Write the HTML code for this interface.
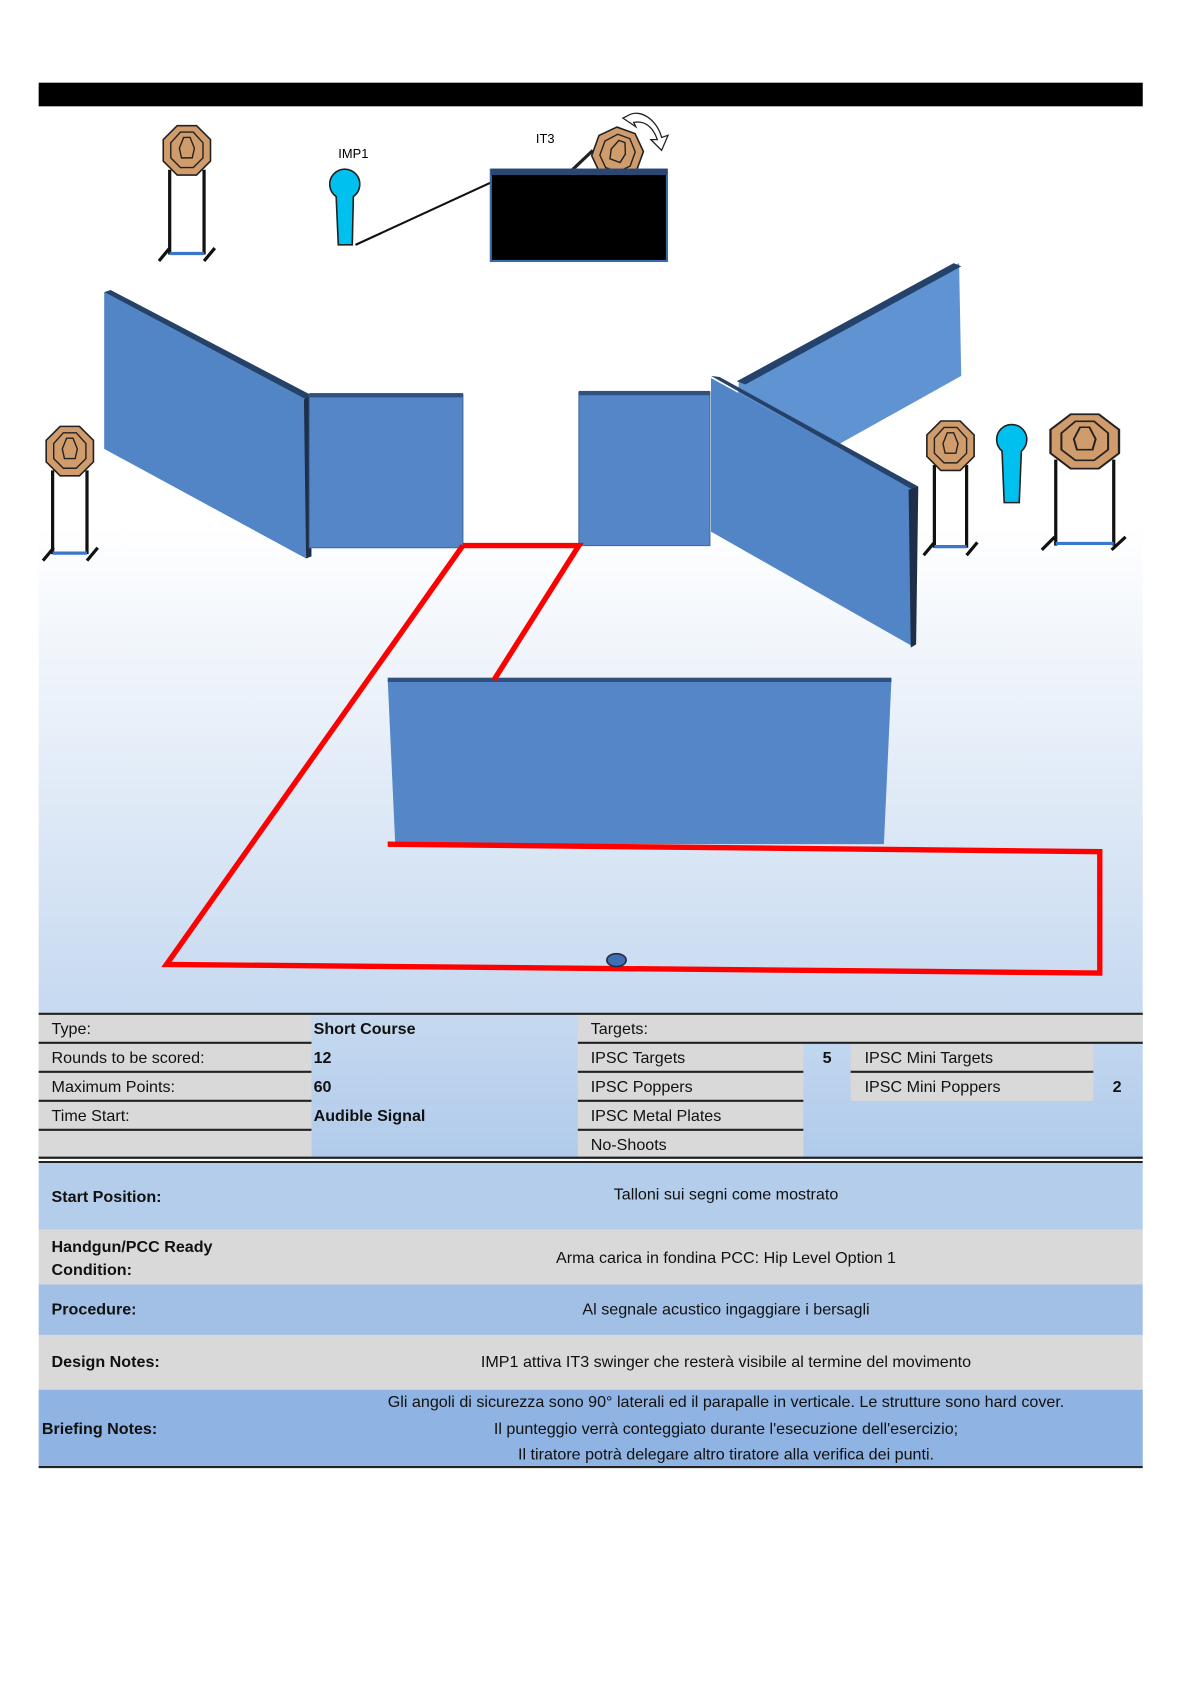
<!DOCTYPE html>
<html><head><meta charset="utf-8"><style>
html,body{margin:0;padding:0;background:#fff;}
svg{display:block;}
text{font-family:"Liberation Sans",Arial,sans-serif;}
</style></head><body>
<svg width="1190" height="1684" viewBox="0 0 1108 1568" preserveAspectRatio="none" xmlns="http://www.w3.org/2000/svg">
<defs>
<linearGradient id="bg" x1="0" y1="0" x2="0" y2="1">
<stop offset="0" stop-color="#ffffff"/><stop offset="1" stop-color="#c6d9f0"/>
</linearGradient>
<linearGradient id="tb" x1="0" y1="0" x2="0" y2="1">
<stop offset="0" stop-color="#c6d9f0"/><stop offset="1" stop-color="#b0cbeb"/>
</linearGradient>
<g id="oct">
<polygon points="-9,-23 9,-23 22,-10 22,10 9,23 -9,23 -22,10 -22,-10" fill="#d19c6b" stroke="#222" stroke-width="1.5"/>
<polygon points="-6,-17 6,-17 15,-7 15,7 6,16 -6,16 -15,7 -15,-7" fill="none" stroke="#222" stroke-width="1.3"/>
<path d="M-3,-12 L3,-12 L7,-2 L5,7 L-5,7 L-7,-2 Z" fill="none" stroke="#222" stroke-width="1.3"/>
</g>
</defs>
<rect x="36" y="490" width="1028" height="455" fill="url(#bg)"/>
<rect x="36" y="77" width="1028" height="22" fill="#000"/>

<!-- left wall -->
<polygon points="97,272 285,372 285,520 97,418" fill="#5285c6"/>
<polygon points="97,272 103,270 290,368 285,372" fill="#25426a"/>
<polygon points="283,372 290,368 290,518 285,520" fill="#1e2f4a"/>
<rect x="288" y="367" width="143" height="143" fill="#5587c8" stroke="#3f6aa0" stroke-width="1"/>
<rect x="288" y="366" width="143" height="4" fill="#30517f"/>
<rect x="539" y="365" width="122" height="143" fill="#5587c8" stroke="#3f6aa0" stroke-width="1"/>
<rect x="539" y="364" width="122" height="4" fill="#30517f"/>
<!-- right back wall -->
<polygon points="688,355 893,245 895,350 680,470" fill="#5f93d2"/>
<polygon points="686,355 888,245 895,248 694,358" fill="#25426a"/>
<!-- right front wall -->
<polygon points="662,352 850,455 850,602 662,495" fill="#5285c6"/>
<polygon points="662,350 670,351 855,453 850,456" fill="#25426a"/>
<polygon points="846,456 855,453 853,600 848,603" fill="#1e2f4a"/>
<!-- front wall -->
<polygon points="361,633 830,633 823,786 368,786" fill="#5587c8"/>
<rect x="361" y="631" width="469" height="4" fill="#30517f"/>

<!-- red path -->
<polyline points="431,508 539,508 460,633" fill="none" stroke="#f00" stroke-width="5"/>
<polyline points="361,786 1024,793 1024,906 155,898 431,508" fill="none" stroke="#f00" stroke-width="5"/>
<ellipse cx="574" cy="894" rx="9" ry="6" fill="#3f6fb0" stroke="#1e2f4a" stroke-width="1.5"/>

<!-- targets with stands -->
<g stroke="#111" stroke-width="3" fill="none">
<path d="M158,158 V237 M190,158 V237 M148,243 L158,231 M190,243 L200,231"/>
<path d="M49,438 V516 M81,438 V516 M40,522 L50,510 M81,522 L91,510"/>
<path d="M870,433 V510 M900,433 V510 M860,517 L870,505 M900,517 L910,505"/>
<path d="M983,428 V508 M1037,428 V508 M970,512 L982,500 M1035,512 L1048,500"/>
</g>
<g stroke="#3a77c8" stroke-width="3">
<line x1="158" y1="236" x2="190" y2="236"/>
<line x1="49" y1="515" x2="81" y2="515"/>
<line x1="870" y1="509" x2="900" y2="509"/>
<line x1="983" y1="506" x2="1037" y2="506"/>
</g>
<use href="#oct" x="174" y="140"/>
<use href="#oct" x="65" y="420"/>
<use href="#oct" x="885" y="415"/>
<g transform="translate(1010,411) scale(1.45,1.1)"><use href="#oct"/></g>

<!-- poppers -->
<path d="M315,228 L313,183 A14,14 0 1 1 329,183 L328,228 Z" fill="#00c0f0" stroke="#222" stroke-width="1.5"/>
<path d="M935,468 L933,420 A14,14 0 1 1 951,420 L949,468 Z" fill="#00c0f0" stroke="#222" stroke-width="1.5"/>
<text x="315" y="147" font-size="12">IMP1</text>
<line x1="331" y1="228" x2="457" y2="170" stroke="#111" stroke-width="2"/>

<!-- IT3 -->
<text x="499" y="133" font-size="12">IT3</text>
<line x1="533" y1="158" x2="552" y2="140" stroke="#222" stroke-width="3"/>
<g transform="translate(575,143) rotate(20)"><use href="#oct"/></g>
<rect x="457" y="158" width="164" height="85" fill="#000" stroke="#3a6aa8" stroke-width="2"/>
<rect x="457" y="157" width="164" height="6" fill="#2b4670"/>
<path d="M584,108 C596,100 612,112 616,128 L622,126 L616,140 L606,130 L612,130 C608,118 600,112 590,114 L592,118 L580,110 Z" fill="#fff" stroke="#222" stroke-width="1.2"/>

<!-- table -->
<rect x="36" y="944" width="1028" height="134" fill="url(#tb)"/>
<g fill="#d9d9d9">
<rect x="36" y="944" width="254" height="134"/>
<rect x="538" y="944" width="526" height="27"/>
<rect x="538" y="971" width="210" height="107"/>
<rect x="792" y="971" width="226" height="54"/>
</g>
<g stroke="#222" stroke-width="2">
<line x1="36" y1="944" x2="1064" y2="944"/>
<line x1="36" y1="971" x2="290" y2="971"/><line x1="538" y1="971" x2="1064" y2="971"/>
<line x1="36" y1="998" x2="290" y2="998"/><line x1="538" y1="998" x2="748" y2="998"/><line x1="792" y1="998" x2="1018" y2="998"/>
<line x1="36" y1="1025" x2="290" y2="1025"/><line x1="538" y1="1025" x2="748" y2="1025"/>
<line x1="36" y1="1052" x2="290" y2="1052"/><line x1="538" y1="1052" x2="748" y2="1052"/>
<line x1="36" y1="1078" x2="1064" y2="1078"/><line x1="36" y1="1082" x2="1064" y2="1082"/>
</g>
<g font-size="15" fill="#111">
<text x="48" y="963">Type:</text>
<text x="48" y="990">Rounds to be scored:</text>
<text x="48" y="1017">Maximum Points:</text>
<text x="48" y="1044">Time Start:</text>
<text x="292" y="963" font-weight="bold">Short Course</text>
<text x="292" y="990" font-weight="bold">12</text>
<text x="292" y="1017" font-weight="bold">60</text>
<text x="292" y="1044" font-weight="bold">Audible Signal</text>
<text x="550" y="963">Targets:</text>
<text x="550" y="990">IPSC Targets</text>
<text x="550" y="1017">IPSC Poppers</text>
<text x="550" y="1044">IPSC Metal Plates</text>
<text x="550" y="1071">No-Shoots</text>
<text x="766" y="990" font-weight="bold">5</text>
<text x="805" y="990">IPSC Mini Targets</text>
<text x="805" y="1017">IPSC Mini Poppers</text>
<text x="1036" y="1017" font-weight="bold">2</text>
</g>
<rect x="36" y="1083" width="1028" height="62" fill="#b3cdea"/>
<rect x="36" y="1145" width="1028" height="51" fill="#d9d9d9"/>
<rect x="36" y="1196" width="1028" height="47" fill="#a2c0e6"/>
<rect x="36" y="1243" width="1028" height="51" fill="#d9d9d9"/>
<rect x="36" y="1294" width="1028" height="71" fill="#8fb3e2"/>
<line x1="36" y1="1366" x2="1064" y2="1366" stroke="#222" stroke-width="2"/>
<g font-size="15" fill="#111">
<text x="48" y="1119" font-weight="bold">Start Position:</text>
<text x="48" y="1166" font-weight="bold">Handgun/PCC Ready</text>
<text x="48" y="1187" font-weight="bold">Condition:</text>
<text x="48" y="1224" font-weight="bold">Procedure:</text>
<text x="48" y="1273" font-weight="bold">Design Notes:</text>
<text x="39" y="1335" font-weight="bold">Briefing Notes:</text>
<g text-anchor="middle">
<text x="676" y="1117">Talloni sui segni come mostrato</text>
<text x="676" y="1176">Arma carica in fondina PCC: Hip Level Option 1</text>
<text x="676" y="1224">Al segnale acustico ingaggiare i bersagli</text>
<text x="676" y="1273">IMP1  attiva IT3 swinger che resterà visibile al termine del movimento</text>
<text x="676" y="1310">Gli angoli di sicurezza sono 90° laterali ed il parapalle in verticale. Le strutture sono hard cover.</text>
<text x="676" y="1335">Il punteggio verrà conteggiato durante l'esecuzione dell'esercizio;</text>
<text x="676" y="1359">Il tiratore potrà delegare altro tiratore alla verifica dei punti.</text>
</g>
</g>
</svg>
</body></html>
